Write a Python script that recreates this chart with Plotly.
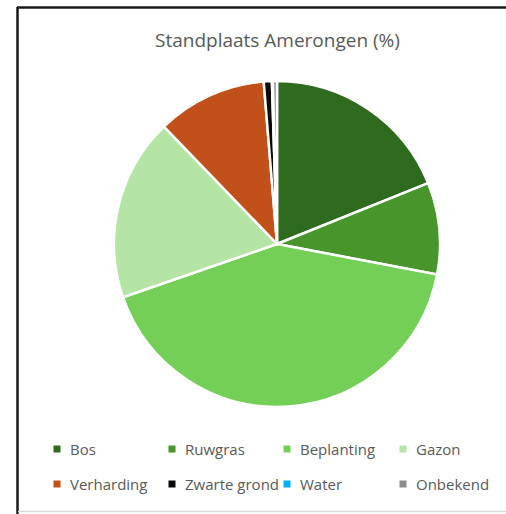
import plotly.graph_objects as go

# Land-use shares at the Amerongen site (%)
categories = ["Bos", "Ruwgras", "Beplanting", "Gazon",
              "Verharding", "Zwarte grond", "Water", "Onbekend"]
shares = [18.9, 9.1, 41.7, 18.1, 10.9, 0.8, 0.1, 0.4]
colors = ["#2E6B1F", "#48962B", "#74CF57", "#B4E5A5",
          "#C2501A", "#0A0A0A", "#00B0F0", "#8C8C8C"]

W, H = 506, 514


def px(x):
    return x / W


def py(y):
    return 1 - y / H


fig = go.Figure()

fig.add_trace(go.Pie(
    labels=categories,
    values=shares,
    sort=False,
    direction="clockwise",
    rotation=0,
    textinfo="none",
    hoverinfo="label+percent",
    marker=dict(colors=colors, line=dict(color="white", width=2.5)),
    domain=dict(x=[px(114), px(440)], y=[py(407), py(81)]),
    showlegend=False,
))

# Legend laid out as a 4-column grid below the pie
col_x = [57, 172, 287, 403]
row_y = [449, 484]
shapes = []
annotations = []
for i, (name, col) in enumerate(zip(categories, colors)):
    cx = col_x[i % 4]
    cy = row_y[i // 4]
    shapes.append(dict(type="rect", xref="paper", yref="paper",
                       x0=px(cx - 3.5), x1=px(cx + 3.5),
                       y0=py(cy + 3.5), y1=py(cy - 3.5),
                       fillcolor=col, line=dict(width=0)))
    annotations.append(dict(text=name, xref="paper", yref="paper",
                            x=px(cx + 11), y=py(cy), xanchor="left",
                            yanchor="middle", showarrow=False,
                            font=dict(family="Open Sans", size=15,
                                      color="#595959")))

annotations.append(dict(text="Standplaats Amerongen (%)", xref="paper",
                        yref="paper", x=px(277), y=py(40),
                        xanchor="center", yanchor="middle", showarrow=False,
                        font=dict(family="Open Sans", size=19,
                                  color="#595959")))

# Chart frame
shapes += [
    dict(type="line", xref="paper", yref="paper",
         x0=px(17), x1=1.01, y0=py(7.5), y1=py(7.5),
         line=dict(color="#1A1A1A", width=2.5)),
    dict(type="line", xref="paper", yref="paper",
         x0=px(17.5), x1=px(17.5), y0=py(7), y1=-0.01,
         line=dict(color="#1A1A1A", width=2.5)),
    dict(type="line", xref="paper", yref="paper",
         x0=px(18), x1=1.01, y0=py(511.5), y1=py(511.5),
         line=dict(color="#D9D9D9", width=1.5)),
]

fig.update_layout(
    width=W, height=H,
    margin=dict(l=0, r=0, t=0, b=0),
    paper_bgcolor="white",
    plot_bgcolor="white",
    shapes=shapes,
    annotations=annotations,
)

fig.write_html("out.html")
